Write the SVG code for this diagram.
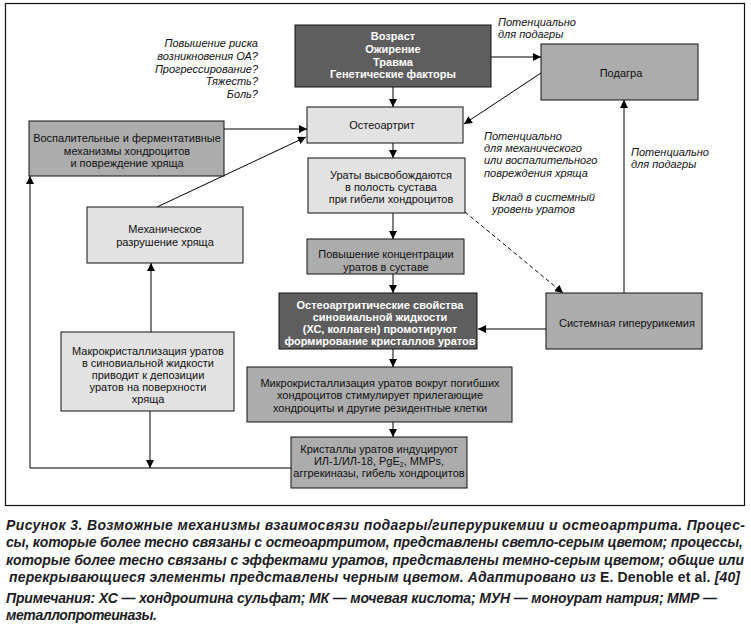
<svg xmlns="http://www.w3.org/2000/svg" width="751" height="628" viewBox="0 0 751 628">
<defs>
<marker id="ah" viewBox="0 0 10 10" refX="10" refY="5" markerWidth="8" markerHeight="8" markerUnits="userSpaceOnUse" orient="auto">
<path d="M0,0 L10,5 L0,10 z" fill="#000"/>
</marker>
</defs>
<style>
.box{stroke:#111;stroke-width:1}
.dark{fill:#5e5e5e}
.mid{fill:#acacac}
.light{fill:#e2e2e2}
.t{font-family:"Liberation Sans",Arial,sans-serif;font-size:11px;fill:#111;text-anchor:middle}
.tb{font-family:"Liberation Sans",Arial,sans-serif;font-size:11px;font-weight:bold;fill:#fff;text-anchor:middle}
.ann{font-family:"Liberation Sans",Arial,sans-serif;font-size:11px;font-style:italic;fill:#111}
.c{stroke:#000;stroke-width:1;fill:none}
.cap{font-family:"Liberation Sans",Arial,sans-serif;font-size:14px;font-weight:bold;font-style:italic;fill:#1c1c24}
</style>
<rect x="0" y="0" width="751" height="628" fill="#fff"/>
<rect x="5.5" y="3.5" width="739" height="502" fill="#fff" stroke="#111" stroke-width="1.2"/>

<g id="connectors">
<line class="c" x1="393" y1="87" x2="393" y2="107" marker-end="url(#ah)"/>
<line class="c" x1="491" y1="57" x2="541" y2="57" marker-end="url(#ah)"/>
<line class="c" x1="541" y1="73" x2="464" y2="124" marker-end="url(#ah)"/>
<line class="c" x1="224" y1="129" x2="307" y2="129" marker-end="url(#ah)"/>
<line class="c" x1="157" y1="207" x2="306" y2="137" marker-end="url(#ah)"/>
<line class="c" x1="393" y1="143" x2="393" y2="158" marker-end="url(#ah)"/>
<line class="c" x1="393" y1="213" x2="393" y2="239" marker-end="url(#ah)"/>
<line class="c" x1="393" y1="274" x2="393" y2="293" marker-end="url(#ah)"/>
<line class="c" x1="465" y1="212" x2="563" y2="293" stroke-dasharray="4,3" marker-end="url(#ah)"/>
<line class="c" x1="624" y1="293" x2="624" y2="100" marker-end="url(#ah)"/>
<line class="c" x1="546" y1="329" x2="478" y2="329" marker-end="url(#ah)"/>
<line class="c" x1="393" y1="349" x2="393" y2="367" marker-end="url(#ah)"/>
<line class="c" x1="393" y1="422" x2="393" y2="437" marker-end="url(#ah)"/>
<polyline class="c" points="291,468 30,468 30,176" marker-end="url(#ah)"/>
<line class="c" x1="150" y1="411" x2="150" y2="468" marker-end="url(#ah)"/>
<line class="c" x1="151" y1="332" x2="151" y2="263" marker-end="url(#ah)"/>
</g>

<g id="n-factors">
<rect class="box dark" x="295" y="25" width="196" height="62"/>
<text class="tb" x="393" y="40">Возраст</text>
<text class="tb" x="393" y="53">Ожирение</text>
<text class="tb" x="393" y="66">Травма</text>
<text class="tb" x="393" y="78">Генетические факторы</text>
</g>
<g id="n-gout">
<rect class="box mid" x="541" y="44" width="157" height="56"/>
<text class="t" x="621" y="77">Подагра</text>
</g>
<g id="n-oa">
<rect class="box light" x="307" y="107" width="156" height="36"/>
<text class="t" x="382" y="129">Остеоартрит</text>
</g>
<g id="n-inflam">
<rect class="box mid" x="29" y="121" width="195" height="55"/>
<text class="t" x="127" y="142">Воспалительные и ферментативные</text>
<text class="t" x="127" y="155">механизмы хондроцитов</text>
<text class="t" x="127" y="167">и повреждение хряща</text>
</g>
<g id="n-urates-release">
<rect class="box light" x="308" y="158" width="157" height="55"/>
<text class="t" x="391" y="179">Ураты высвобождаются</text>
<text class="t" x="391" y="191">в полость сустава</text>
<text class="t" x="391" y="203">при гибели хондроцитов</text>
</g>
<g id="n-mech">
<rect class="box light" x="87" y="207" width="156" height="56"/>
<text class="t" x="165" y="233">Механическое</text>
<text class="t" x="165" y="246">разрушение хряща</text>
</g>
<g id="n-conc">
<rect class="box mid" x="307" y="239" width="157" height="35"/>
<text class="t" x="386" y="258">Повышение концентрации</text>
<text class="t" x="386" y="271">уратов в суставе</text>
</g>
<g id="n-oa-props">
<rect class="box dark" x="279" y="293" width="198" height="56"/>
<text class="tb" x="380" y="309">Остеоартритические свойства</text>
<text class="tb" x="380" y="321">синовиальной жидкости</text>
<text class="tb" x="380" y="333">(ХС, коллаген) промотируют</text>
<text class="tb" x="380" y="345">формирование кристаллов уратов</text>
</g>
<g id="n-hyper">
<rect class="box mid" x="546" y="293" width="156" height="56"/>
<text class="t" x="627" y="327">Системная гиперурикемия</text>
</g>
<g id="n-micro">
<rect class="box mid" x="247" y="367" width="265" height="55"/>
<text class="t" x="380" y="387">Микрокристаллизация уратов вокруг погибших</text>
<text class="t" x="380" y="399">хондроцитов стимулирует прилегающие</text>
<text class="t" x="380" y="412">хондроциты и другие резидентные клетки</text>
</g>
<g id="n-crystals">
<rect class="box mid" x="291" y="437" width="176" height="51"/>
<text class="t" x="379" y="453">Кристаллы уратов индуцируют</text>
<text class="t" x="379" y="465">ИЛ-1/ИЛ-18, PgE<tspan font-size="7" dy="2">2</tspan><tspan dy="-2">, MMPs,</tspan></text>
<text class="t" x="379" y="477">аггрекиназы, гибель хондроцитов</text>
</g>
<g id="n-macro">
<rect class="box light" x="61" y="332" width="173" height="79"/>
<text class="t" x="148" y="355">Макрокристаллизация уратов</text>
<text class="t" x="148" y="367">в синовиальной жидкости</text>
<text class="t" x="148" y="379">приводит к депозиции</text>
<text class="t" x="148" y="391">уратов на поверхности</text>
<text class="t" x="148" y="403">хряща</text>
</g>

<g id="annotations">
<text class="ann" x="258" y="47" text-anchor="end">Повышение риска</text>
<text class="ann" x="258" y="60" text-anchor="end">возникновения ОА?</text>
<text class="ann" x="258" y="73" text-anchor="end">Прогрессирование?</text>
<text class="ann" x="258" y="85" text-anchor="end">Тяжесть?</text>
<text class="ann" x="258" y="98" text-anchor="end">Боль?</text>
<text class="ann" x="498" y="26">Потенциально</text>
<text class="ann" x="498" y="38">для подагры</text>
<text class="ann" x="484" y="140">Потенциально</text>
<text class="ann" x="484" y="152">для механического</text>
<text class="ann" x="484" y="164">или воспалительного</text>
<text class="ann" x="484" y="177">повреждения хряща</text>
<text class="ann" x="631" y="156">Потенциально</text>
<text class="ann" x="631" y="168">для подагры</text>
<text class="ann" x="492" y="201">Вклад в системный</text>
<text class="ann" x="492" y="213">уровень уратов</text>
</g>

<g id="caption">
<text class="cap" x="6" y="530" textLength="739" lengthAdjust="spacing">Рисунок 3. Возможные механизмы взаимосвязи подагры/гиперурикемии и остеоартрита. Процес-</text>
<text class="cap" x="6" y="547" textLength="737" lengthAdjust="spacing">сы, которые более тесно связаны с остеоартритом, представлены светло-серым цветом; процессы,</text>
<text class="cap" x="6" y="565" textLength="738" lengthAdjust="spacing">которые более тесно связаны с эффектами уратов, представлены темно-серым цветом; общие или</text>
<text class="cap" x="9" y="582" textLength="731" lengthAdjust="spacing">перекрывающиеся элементы представлены черным цветом. Адаптировано из <tspan font-style="normal">E. Denoble et al.</tspan> [40]</text>
<text class="cap" x="6" y="603" textLength="711" lengthAdjust="spacing">Примечания: ХС — хондроитина сульфат; МК — мочевая кислота; МУН — моноурат натрия; ММР —</text>
<text class="cap" x="6" y="620" textLength="151" lengthAdjust="spacing">металлопротеиназы.</text>
</g>
</svg>
